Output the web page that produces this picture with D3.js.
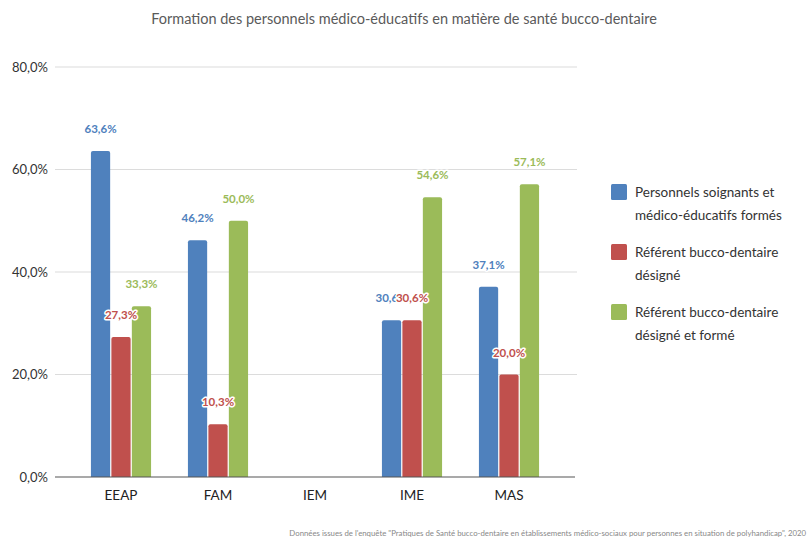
<!DOCTYPE html>
<html>
<head>
<meta charset="utf-8">
<script src="https://cdn.jsdelivr.net/npm/d3@7"></script>
<style>
  body { margin: 0; background: #fff; }
  text { font-family: Lato, "Open Sans", sans-serif; }
</style>
</head>
<body>
<svg width="808" height="538"></svg>
<script>
const categories = ['EEAP', 'FAM', 'IEM', 'IME', 'MAS'];
const seriesNames = [
  ['Personnels soignants et', 'médico-éducatifs formés'],
  ['Référent bucco-dentaire', 'désigné'],
  ['Référent bucco-dentaire', 'désigné et formé']
];
const formes = [63.6, 46.2, null, 30.6, 37.1];
const designe = [27.3, 10.3, null, 30.6, 20.0];
const designeForme = [33.3, 50.0, null, 54.6, 57.1];
const yTicks = [0, 20, 40, 60, 80];
const colors = ['#4f81bd', '#c0504d', '#9bbb59'];

const series = [formes, designe, designeForme];

const svg = d3.select('svg');

// title
svg.append('text')
  .attr('x', 404).attr('y', 24)
  .attr('text-anchor', 'middle')
  .attr('font-size', 14.5)
  .attr('fill', '#5a5a5a')
  .text('Formation des personnels médico-éducatifs en matière de santé bucco-dentaire');

var y = d3.scaleLinear().domain([0, 80]).range([477, 67]);
var x = d3.scaleBand().domain(categories).range([72.5, 557.5])
  .paddingInner(0.38).paddingOuter(0.19);
var xs = d3.scaleBand().domain([0, 1, 2]).range([0, x.bandwidth()]).paddingInner(0.06);

// grid
svg.append('g').selectAll('line').data(yTicks.slice(1)).enter()
  .append('line')
  .attr('x1', 55).attr('x2', 577)
  .attr('y1', d => y(d)).attr('y2', d => y(d))
  .attr('stroke', '#dcdcdc').attr('stroke-width', 1.2);

// y labels
svg.append('g').selectAll('text').data(yTicks).enter()
  .append('text')
  .attr('x', 48).attr('y', d => y(d) + 4.5)
  .attr('text-anchor', 'end')
  .attr('font-size', 13)
  .attr('fill', '#333')
  .text(d => d3.format('.1f')(d).replace('.', ',') + '%');

// bars
series.forEach(function (vals, si) {
  svg.append('g').selectAll('path').data(categories.filter((c, i) => vals[i] != null)).enter()
    .append('path')
    .attr('fill', colors[si])
    .attr('d', function (c) {
      var v = vals[categories.indexOf(c)];
      var x0 = x(c) + xs(si), w = xs.bandwidth(), y0 = y(v), y1 = y(0), r = 2;
      return 'M' + x0 + ',' + y1 + 'V' + (y0 + r) + 'Q' + x0 + ',' + y0 + ' ' + (x0 + r) + ',' + y0 +
        'H' + (x0 + w - r) + 'Q' + (x0 + w) + ',' + y0 + ' ' + (x0 + w) + ',' + (y0 + r) + 'V' + y1 + 'Z';
    });
});

// x axis line
svg.append('line')
  .attr('x1', 55).attr('x2', 575).attr('y1', 477).attr('y2', 477)
  .attr('stroke', '#555').attr('stroke-width', 1.2);

// category labels
svg.append('g').selectAll('text').data(categories).enter()
  .append('text')
  .attr('x', d => x(d) + x.bandwidth() / 2)
  .attr('y', 500)
  .attr('text-anchor', 'middle')
  .attr('font-size', 13.5)
  .attr('fill', '#222')
  .text(d => d);

// value labels (the IME red label covers the blue one, as in the source)
series.forEach(function (vals, si) {
  svg.append('g').selectAll('text').data(categories.filter((c, i) => vals[i] != null)).enter()
    .append('text')
    .attr('x', c => x(c) + xs(si) + xs.bandwidth() / 2)
    .attr('y', c => y(vals[categories.indexOf(c)]) - 18)
    .attr('text-anchor', 'middle')
    .attr('font-size', 11.5)
    .attr('font-weight', 'bold')
    .attr('font-family', 'Roboto, sans-serif')
    .attr('fill', colors[si])
    .attr('stroke', '#fff').attr('stroke-width', 3).attr('paint-order', 'stroke')
    .attr('stroke-linejoin', 'round')
    .text(c => vals[categories.indexOf(c)].toFixed(1).replace('.', ',') + '%');
});

// legend
var legend = svg.append('g').selectAll('g').data(seriesNames).enter()
  .append('g')
  .attr('transform', (d, i) => 'translate(611,' + (184 + i * 60) + ')');
legend.append('rect')
  .attr('width', 16).attr('height', 16).attr('rx', 1.5)
  .attr('fill', (d, i) => colors[i]);
legend.selectAll('text').data(d => d).enter()
  .append('text')
  .attr('x', 24).attr('y', (d, j) => 13 + j * 23)
  .attr('font-size', 13.5)
  .attr('fill', '#333')
  .text(d => d);

// source
svg.append('text')
  .attr('x', 806).attr('y', 536)
  .attr('text-anchor', 'end')
  .attr('font-size', 7.8)
  .attr('fill', '#888')
  .text('Données issues de l\'enquête "Pratiques de Santé bucco-dentaire en établissements médico-sociaux pour personnes en situation de polyhandicap", 2020');
</script>
</body>
</html>
